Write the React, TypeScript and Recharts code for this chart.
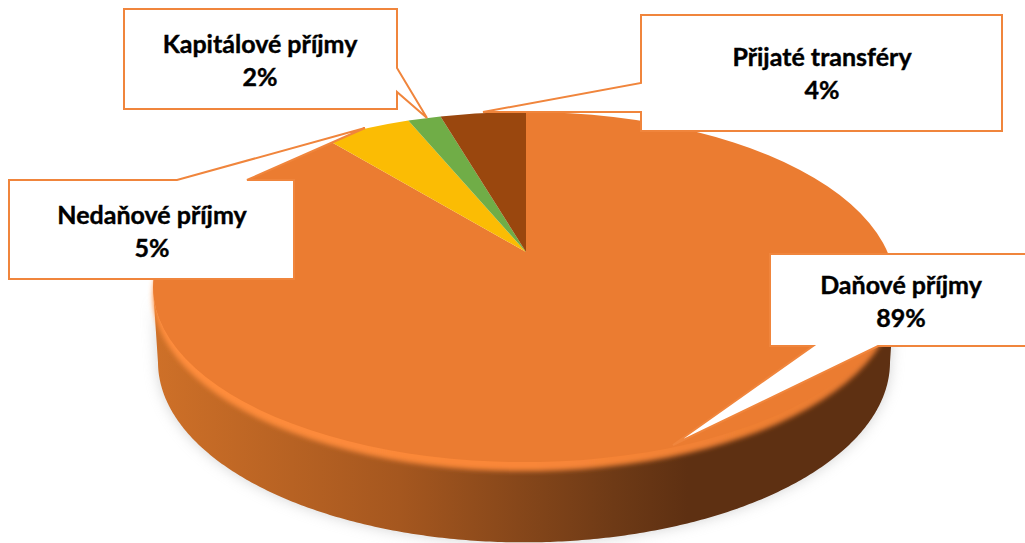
import { Pie, PieChart } from "recharts";

const categories = ["Daňové příjmy", "Nedaňové příjmy", "Kapitálové příjmy", "Přijaté transféry"];
const shares = [89.3, 4.6, 1.7, 4.4];
const colors = ["#EB7C31", "#FBBC04", "#70AD47", "#9A470E"];

const data = categories.map((name, i) => ({ name, value: shares[i], fill: colors[i] }));

// callout boxes, tip = where the pointer ends, base = the two points on the box edge
const callouts = [
  { x: 770, y: 254, w: 270, h: 92, textX: 901, base1: 294, edge: "bottom", from: 813, to: 878, tip: [673, 445] },
  { x: 9, y: 180, w: 285, h: 99, textX: 152, base1: 224, edge: "top", from: 177, to: 247, tip: [365, 128] },
  { x: 124, y: 9, w: 273, h: 100, textX: 260, base1: 53, edge: "right", from: 68, to: 92, tip: [427, 118] },
  { x: 641, y: 15, w: 361, h: 116, textX: 822, base1: 66, edge: "left", from: 83, to: 112, tip: [483, 112] },
];

const TILT = 0.472;
const RAY_TILT = 0.45;
const CENTER_DROP = 35;
const CENTER_DX = -2;
const WALL_DEPTH = 75;
const WALL_SHRINK = 5;
const RAD = Math.PI / 180;

// point on the top ellipse for a pie angle; rays start at the apex, which sits above the ellipse centre
function rimPoint(cx: number, cy: number, r: number, angle: number) {
  const rx = r;
  const ry = r * TILT;
  const ox = (cx - (cx + CENTER_DX)) / rx;
  const oy = (cy - (cy + CENTER_DROP)) / ry;
  const dx = Math.cos(angle * RAD) / rx;
  const dy = (-RAY_TILT * Math.sin(angle * RAD)) / ry;
  const a = dx * dx + dy * dy;
  const b = 2 * (ox * dx + oy * dy);
  const c = ox * ox + oy * oy - 1;
  const t = (-b + Math.sqrt(b * b - 4 * a * c)) / (2 * a);
  return { x: cx + Math.cos(angle * RAD) * t, y: cy - RAY_TILT * Math.sin(angle * RAD) * t };
}

function sectorPath(p: any) {
  const { cx, cy, outerRadius: r, startAngle, endAngle } = p;
  const s = rimPoint(cx, cy, r, startAngle);
  const e = rimPoint(cx, cy, r, endAngle);
  const large = Math.abs(startAngle - endAngle) > 180 ? 1 : 0;
  return `M${cx},${cy}L${s.x},${s.y}A${r},${r * TILT} 0 ${large} 1 ${e.x},${e.y}Z`;
}

function TopSector(p: any) {
  return <path d={sectorPath(p)} fill={p.fill} stroke="none" />;
}

function WallSector(p: any) {
  const { cx, cy, outerRadius: r, startAngle, endAngle } = p;
  const midY = cy + CENTER_DROP;
  const midX = cx + CENTER_DX;
  const top: { x: number; y: number }[] = [];
  const dir = endAngle < startAngle ? -1 : 1;
  for (let a = startAngle; dir * (endAngle - a) >= 0; a += dir * 0.5) {
    const pt = rimPoint(cx, cy, r, a);
    if (pt.y >= midY) top.push(pt);
  }
  if (!top.length) return <g />;
  const scale = (r - WALL_SHRINK) / r;
  const bottom = top
    .map((pt) => ({ x: midX + (pt.x - midX) * scale, y: pt.y + WALL_DEPTH + (pt.y - midY) * 0.03 }))
    .reverse();
  const d = "M" + [...top, ...bottom].map((pt) => `${pt.x},${pt.y}`).join("L") + "Z";
  return (
    <g>
      <path d={d} fill="#a8a8a8" opacity={0.5} filter="url(#wallShadow)" />
      <path d={d} fill="url(#wallFill)" />
      <path d={sectorPath(p)} transform="translate(0,9)" fill="url(#rimFill)" filter="url(#rimBlur)" />
    </g>
  );
}

function Callout(p: any) {
  const c = callouts[p.index];
  const x2 = c.x + c.w;
  const y2 = c.y + c.h;
  const [tx, ty] = c.tip;
  let pts: number[][] = [];
  if (c.edge === "top")
    pts = [[c.x, c.y], [c.from, c.y], [tx, ty], [c.to, c.y], [x2, c.y], [x2, y2], [c.x, y2]];
  if (c.edge === "bottom")
    pts = [[c.x, c.y], [x2, c.y], [x2, y2], [c.to, y2], [tx, ty], [c.from, y2], [c.x, y2]];
  if (c.edge === "right")
    pts = [[c.x, c.y], [x2, c.y], [x2, c.from], [tx, ty], [x2, c.to], [x2, y2], [c.x, y2]];
  if (c.edge === "left")
    pts = [[c.x, c.y], [x2, c.y], [x2, y2], [c.x, y2], [c.x, c.to], [tx, ty], [c.x, c.from]];
  return (
    <g>
      <polygon points={pts.map((q) => q.join(",")).join(" ")} fill="#fff" stroke="#F0853C" strokeWidth={2} />
      <text
        textAnchor="middle"
        fontFamily="Lato, sans-serif"
        fontWeight={700}
        fontSize={25}
        fill="#000"
        stroke="#000"
        strokeWidth={0.4}
      >
        <tspan x={c.textX} y={c.base1}>{p.name}</tspan>
        <tspan x={c.textX} y={c.base1 + 33}>{`${Math.round(p.percent * 100)}%`}</tspan>
      </text>
    </g>
  );
}

export default function App() {
  return (
    <div style={{ position: "absolute", left: 0, top: 0, width: 1025, height: 543, overflow: "hidden" }}>
      <PieChart width={1025} height={543} margin={{ top: 0, right: 0, bottom: 0, left: 0 }}>
        <defs>
          <linearGradient id="wallFill" gradientUnits="userSpaceOnUse" x1={155} y1={0} x2={895} y2={0}>
            <stop offset="0" stopColor="#CE7028" />
            <stop offset="0.33" stopColor="#A5571F" />
            <stop offset="0.62" stopColor="#6E3A16" />
            <stop offset="0.72" stopColor="#5E3012" />
            <stop offset="1" stopColor="#5E3012" />
          </linearGradient>
          <linearGradient id="rimFill" gradientUnits="userSpaceOnUse" x1={155} y1={0} x2={895} y2={0}>
            <stop offset="0" stopColor="#FF8D3C" />
            <stop offset="0.5" stopColor="#F98638" />
            <stop offset="1" stopColor="#E87B30" />
          </linearGradient>
          <filter id="wallShadow" x="-10%" y="-20%" width="120%" height="140%">
            <feGaussianBlur stdDeviation="7" />
          </filter>
          <filter id="rimBlur" x="-5%" y="-5%" width="110%" height="110%">
            <feGaussianBlur stdDeviation="2.5" />
          </filter>
        </defs>
        <Pie
          data={data}
          dataKey="value"
          nameKey="name"
          cx={526}
          cy={252}
          outerRadius={371}
          startAngle={90}
          endAngle={-270}
          stroke="none"
          shape={WallSector}
          isAnimationActive={false}
        />
        <Pie
          data={data}
          dataKey="value"
          nameKey="name"
          cx={526}
          cy={252}
          outerRadius={371}
          startAngle={90}
          endAngle={-270}
          stroke="none"
          shape={TopSector}
          label={Callout}
          labelLine={false}
          isAnimationActive={false}
        />
      </PieChart>
    </div>
  );
}
